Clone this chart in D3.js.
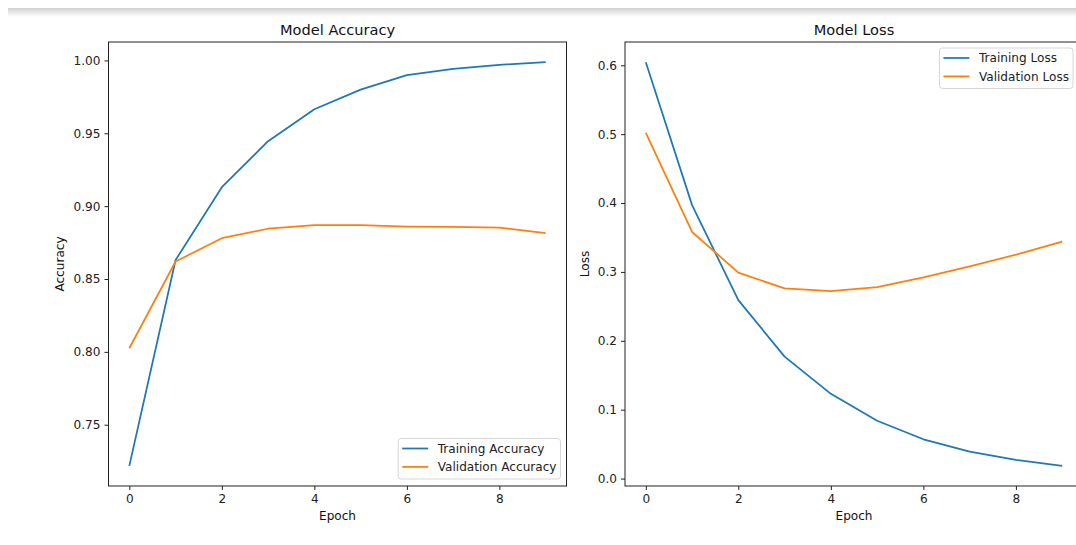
<!DOCTYPE html>
<html>
<head>
<meta charset="utf-8">
<script src="https://cdn.jsdelivr.net/npm/d3@7"></script>
<style>
  body { margin: 0; background: #fff; }
  svg { display: block; font-family: "DejaVu Sans", sans-serif; }
</style>
</head>
<body>
<div id="chart"></div>
<script>
// values
const epochs = [0, 1, 2, 3, 4, 5, 6, 7, 8, 9];
const trainAcc = [0.7218, 0.863, 0.913, 0.9446, 0.9665, 0.980, 0.9899, 0.9942, 0.997, 0.9988];
const valAcc = [0.8025, 0.862, 0.878, 0.8845, 0.887, 0.887, 0.886, 0.8857, 0.8852, 0.8815];
const trainLoss = [0.6045, 0.397, 0.259, 0.177, 0.123, 0.084, 0.057, 0.039, 0.027, 0.0185];
const valLoss = [0.502, 0.358, 0.299, 0.276, 0.272, 0.278, 0.292, 0.308, 0.325, 0.344];
const xTicks = [0, 2, 4, 6, 8];
const accTicks = [0.75, 0.80, 0.85, 0.90, 0.95, 1.00];
const lossTicks = [0.0, 0.1, 0.2, 0.3, 0.4, 0.5, 0.6];

const W = 1076, H = 545;
const blue = "#1f77b4", orange = "#ff7f0e";
const fs = 12.1;   // tick / label / legend size
const titleFs = 14.6;

const svg = d3.select("#chart").append("svg")
  .attr("width", W).attr("height", H);

// grey shadow strip at the very top
const grad = svg.append("defs").append("linearGradient")
  .attr("id", "shade").attr("x1", 0).attr("y1", 0).attr("x2", 0).attr("y2", 1);
grad.append("stop").attr("offset", "0%").attr("stop-color", "#d0d0d0");
grad.append("stop").attr("offset", "100%").attr("stop-color", "#fff");
svg.append("rect").attr("x", 8).attr("y", 8).attr("width", W - 8).attr("height", 9)
  .attr("fill", "url(#shade)");

// margins with matplotlib's 5% padding
function padded(lo, hi){
  const m = (hi - lo) * 0.05;
  return [lo - m, hi + m];
}

function drawPanel(opt){
  const g = svg.append("g").attr("transform", `translate(${opt.left},${opt.top})`);
  const w = opt.width, h = opt.height;

  const x = d3.scaleLinear().domain(padded(0, 9)).range([0, w]);
  const all = opt.series.flatMap(s => s.values);
  const y = d3.scaleLinear().domain(padded(d3.min(all), d3.max(all))).range([h, 0]);

  const xa = g.append("g").attr("transform", `translate(0,${h})`)
    .call(d3.axisBottom(x).tickValues(xTicks).tickSize(4).tickPadding(4).tickFormat(d3.format("d")));
  const ya = g.append("g")
    .call(d3.axisLeft(y).tickValues(opt.yTicks).tickSize(4).tickPadding(4).tickFormat(d3.format(opt.fmt)));
  [xa, ya].forEach(a => {
    a.select(".domain").remove();
    a.selectAll("text").attr("font-size", fs).attr("fill", "#222")
      .attr("font-family", "DejaVu Sans");
    a.selectAll("line").attr("stroke", "#222").attr("stroke-width", 1);
  });

  const line = d3.line().x((d, i) => x(epochs[i])).y(d => y(d));
  opt.series.forEach(s => {
    g.append("path").datum(s.values)
      .attr("fill", "none").attr("stroke", s.color).attr("stroke-width", 1.75)
      .attr("stroke-linejoin", "round").attr("d", line);
  });

  g.append("rect").attr("width", w).attr("height", h)
    .attr("fill", "none").attr("stroke", "#222").attr("stroke-width", 1);

  g.append("text").attr("x", w / 2).attr("y", -7).attr("text-anchor", "middle")
    .attr("font-size", titleFs).attr("fill", "#111").text(opt.title);
  g.append("text").attr("x", w / 2).attr("y", h + 34).attr("text-anchor", "middle")
    .attr("font-size", fs).attr("fill", "#111").text("Epoch");
  g.append("text").attr("transform", `translate(${opt.ylabelX},${h / 2}) rotate(-90)`)
    .attr("text-anchor", "middle").attr("font-size", fs).attr("fill", "#111")
    .text(opt.ylabel);

  // legend
  const lg = g.append("g");
  const frame = lg.append("rect").attr("rx", 3).attr("fill", "#fff").attr("fill-opacity", 0.8)
    .attr("stroke", "#d6d6d6").attr("stroke-width", 1);
  let textW = 0;
  opt.series.forEach((s, i) => {
    const yy = 10 + i * 18.4;
    lg.append("line").attr("x1", 4).attr("x2", 30).attr("y1", yy).attr("y2", yy)
      .attr("stroke", s.color).attr("stroke-width", 1.75);
    const t = lg.append("text").attr("x", 39.5).attr("y", yy + 4.3)
      .attr("font-size", fs).attr("fill", "#222").text(s.name);
    textW = Math.max(textW, t.node().getComputedTextLength());
  });
  const lw = 39.5 + textW + 4, lh = 40.5;
  frame.attr("width", lw).attr("height", lh);
  if (opt.legend === "lower right") {
    lg.attr("transform", `translate(${w - 6 - lw},${h - 7 - lh})`);
  } else {
    lg.attr("transform", `translate(${w - 10 - lw},6)`);
  }
}

drawPanel({
  left: 108.5, top: 42, width: 458, height: 444,
  title: "Model Accuracy", ylabel: "Accuracy", ylabelX: -45,
  yTicks: accTicks, fmt: ".2f", legend: "lower right",
  series: [
    {name: "Training Accuracy", color: blue, values: trainAcc},
    {name: "Validation Accuracy", color: orange, values: valAcc}
  ]
});

drawPanel({
  left: 625, top: 42, width: 458, height: 444,
  title: "Model Loss", ylabel: "Loss", ylabelX: -36,
  yTicks: lossTicks, fmt: ".1f", legend: "upper right",
  series: [
    {name: "Training Loss", color: blue, values: trainLoss},
    {name: "Validation Loss", color: orange, values: valLoss}
  ]
});
</script>
</body>
</html>
